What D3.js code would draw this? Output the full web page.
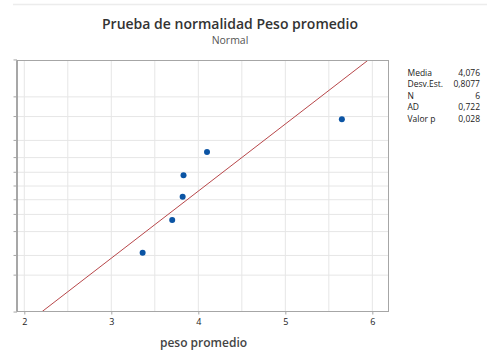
<!DOCTYPE html>
<html>
<head>
<meta charset="utf-8">
<script src="https://cdn.jsdelivr.net/npm/d3@7"></script>
<style>
  body { margin: 0; background: #fff; }
  svg { display: block; font-family: "Open Sans", "Noto Sans", sans-serif; }
</style>
</head>
<body>
<svg id="chart" width="489" height="358"></svg>
<script>
// datos
var pesos = [3.36, 3.70, 3.82, 3.83, 4.10, 5.65];
var xTicks = [2, 3, 4, 5, 6];
var xGrid = [2, 2.5, 3, 3.5, 4, 4.5, 5, 5.5, 6];
var pctTicks = [1, 5, 10, 20, 30, 40, 50, 60, 70, 80, 90, 95, 99];
var statLabels = ["Media", "Desv.Est.", "N", "AD", "Valor p"];
var statValues = ["4,076", "0,8077", "6", "0,722", "0,028"];

var media = 4.076, desv = 0.8077;

var svg = d3.select("#chart");
var margin = {top: 60.5, left: 17, right: 100.5, bottom: 46.5},
    width = 489 - margin.left - margin.right,
    height = 358 - margin.top - margin.bottom;

// inverse normal cdf (Acklam)
var probit = function(p) {
  var a = [-39.69683028665376, 220.9460984245205, -275.9285104469687, 138.3577518672690, -30.66479806614716, 2.506628277459239],
      b = [-54.47609879822406, 161.5858368580409, -155.6989798598866, 66.80131188771972, -13.28068155288572],
      c = [-0.007784894002430293, -0.3223964580411365, -2.400758277161838, -2.549732539343734, 4.374664141464968, 2.938163982698783],
      d = [0.007784695709041462, 0.3224671290700398, 2.445134137142996, 3.754408661907416];
  var q, r;
  if (p < 0.02425) {
    q = Math.sqrt(-2 * Math.log(p));
    return (((((c[0]*q+c[1])*q+c[2])*q+c[3])*q+c[4])*q+c[5]) / ((((d[0]*q+d[1])*q+d[2])*q+d[3])*q+1);
  } else if (p > 1 - 0.02425) {
    q = Math.sqrt(-2 * Math.log(1 - p));
    return -(((((c[0]*q+c[1])*q+c[2])*q+c[3])*q+c[4])*q+c[5]) / ((((d[0]*q+d[1])*q+d[2])*q+d[3])*q+1);
  }
  q = p - 0.5; r = q * q;
  return (((((a[0]*r+a[1])*r+a[2])*r+a[3])*r+a[4])*r+a[5])*q / (((((b[0]*r+b[1])*r+b[2])*r+b[3])*r+b[4])*r+1);
};

var x = d3.scaleLinear().domain([1.916, 6.186]).range([0, width]);
var zMax = 2.316;
var y = d3.scaleLinear().domain([-zMax, zMax]).range([height, 0]);

// faint line at top
svg.append("line").attr("x1", 13).attr("x2", 487).attr("y1", 4.5).attr("y2", 4.5)
  .attr("stroke", "#ececec").attr("stroke-width", 1.5);

var g = svg.append("g").attr("transform", "translate(" + margin.left + "," + margin.top + ")");

// grid
g.selectAll(".gx").data(xGrid).enter().append("line")
  .attr("x1", function(d) { return x(d); }).attr("x2", function(d) { return x(d); })
  .attr("y1", 0).attr("y2", height)
  .attr("stroke", "#e6e6e6").attr("stroke-width", 1);
g.selectAll(".gy").data(pctTicks.slice(1, -1)).enter().append("line")
  .attr("x1", 0).attr("x2", width)
  .attr("y1", function(d) { return y(probit(d / 100)); }).attr("y2", function(d) { return y(probit(d / 100)); })
  .attr("stroke", "#e6e6e6").attr("stroke-width", 1);

// fitted line
var zLo = -zMax, zHi = zMax;
g.append("line")
  .attr("x1", x(media + zLo * desv)).attr("y1", y(zLo))
  .attr("x2", x(media + zHi * desv)).attr("y2", y(zHi))
  .attr("stroke", "#b8474a").attr("stroke-width", 1);

// frame
g.append("rect").attr("width", width).attr("height", height)
  .attr("fill", "none").attr("stroke", "#a6a6a6").attr("stroke-width", 1);
g.append("line").attr("x1", 0).attr("x2", 0).attr("y1", 0).attr("y2", height)
  .attr("stroke", "#999").attr("stroke-width", 1.5);

// y ticks (no labels visible)
g.selectAll(".ty").data(pctTicks).enter().append("line")
  .attr("x1", -3.5).attr("x2", 0)
  .attr("y1", function(d) { return y(probit(d / 100)); }).attr("y2", function(d) { return y(probit(d / 100)); })
  .attr("stroke", "#a6a6a6");

// x axis
var xAxis = g.append("g").attr("transform", "translate(0," + height + ")")
  .call(d3.axisBottom(x).tickValues(xTicks).tickSize(3).tickPadding(4).tickFormat(d3.format("d")));
xAxis.select(".domain").remove();
xAxis.selectAll("line").attr("stroke", "#a6a6a6");
xAxis.selectAll("text").attr("font-size", 9).attr("fill", "#222").attr("font-family", "Open Sans, sans-serif");

// points (Benard plotting positions)
var n = pesos.length;
var sorted = pesos.slice().sort(d3.ascending);
g.selectAll(".pt").data(sorted).enter().append("circle")
  .attr("cx", function(d) { return x(d); })
  .attr("cy", function(d, i) { return y(probit((i + 1 - 0.3) / (n + 0.4))); })
  .attr("r", 3)
  .attr("fill", "#0b54a4");

// titles
svg.append("text").attr("x", 230).attr("y", 29).attr("text-anchor", "middle")
  .attr("font-size", 14).attr("font-weight", 600).attr("fill", "#333")
  .text("Prueba de normalidad Peso promedio");
svg.append("text").attr("x", 230).attr("y", 44).attr("text-anchor", "middle")
  .attr("font-size", 10.5).attr("fill", "#555")
  .text("Normal");
svg.append("text").attr("x", 203.5).attr("y", 346.5).attr("text-anchor", "middle")
  .attr("font-size", 12).attr("font-weight", 600).attr("fill", "#444")
  .text("peso promedio");

// stats table
var stats = svg.append("g");
statLabels.forEach(function(lab, i) {
  var yy = 75.5 + i * 11.6;
  stats.append("text").attr("x", 407.5).attr("y", yy).attr("font-size", 8.5).attr("fill", "#222").text(lab);
  stats.append("text").attr("x", 480).attr("y", yy).attr("text-anchor", "end").attr("font-size", 8.5).attr("fill", "#222").text(statValues[i]);
});
</script>
</body>
</html>
